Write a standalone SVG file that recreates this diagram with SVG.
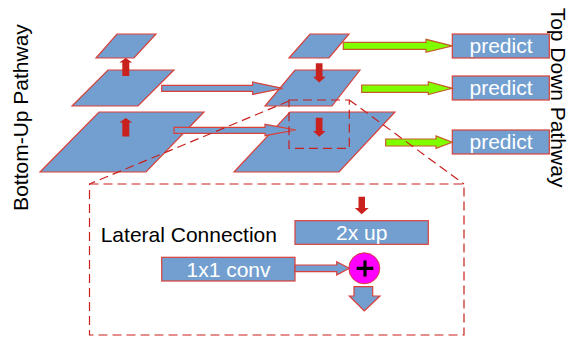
<svg xmlns="http://www.w3.org/2000/svg" width="570" height="340" viewBox="0 0 570 340">
<style>
.plane{fill:#729fcf;stroke:#d9413a;stroke-width:1.2}
.box{fill:#729fcf;stroke:#d9413a;stroke-width:1.2}
.red{fill:#c9211e;stroke:none}
.blue{fill:#729fcf;stroke:#d9413a;stroke-width:1.2}
.green{fill:#80ff00;stroke:#c65a2a;stroke-width:1.2}
.dash{fill:none;stroke:#c9211e;stroke-width:1.2;stroke-dasharray:9,5}
.wt{font-family:"Liberation Sans",Arial,sans-serif;font-size:21px;fill:#ffffff;text-anchor:middle}
.bt{font-family:"Liberation Sans",Arial,sans-serif;font-size:21px;fill:#000000}
</style>
<rect width="570" height="340" fill="#ffffff"/>

<g id="bu-top"><polygon class="plane" points="117,34 156,34 134,58 96,58"/></g>
<g id="bu-mid"><polygon class="plane" points="108,70 174,70 138,106 72,106"/></g>
<g id="bu-bot"><polygon class="plane" points="99,112 204,112 146,172 40,172"/></g>

<g id="td-top"><polygon class="plane" points="310,34 349,34 329,58 289,58"/></g>
<g id="td-mid"><polygon class="plane" points="295,70 360,70 332,106 265,106"/></g>
<g id="td-bot"><polygon class="plane" points="290,112 395,112 339,172 234,172"/></g>

<g id="predict1"><rect class="box" x="452.3" y="34" width="97" height="24"/><text class="wt" x="501" y="53">predict</text></g>
<g id="predict2"><rect class="box" x="452.3" y="76" width="97" height="24"/><text class="wt" x="501" y="95">predict</text></g>
<g id="predict3"><rect class="box" x="452.3" y="130" width="97" height="24"/><text class="wt" x="501" y="149">predict</text></g>

<g id="up2x"><rect class="box" x="295" y="220.7" width="133.3" height="23.6"/><text class="wt" x="361.7" y="240">2x up</text></g>
<g id="conv1x1"><rect class="box" x="161.7" y="257.3" width="133.3" height="23.7"/><text class="wt" x="228.5" y="276.5">1x1 conv</text></g>
<g id="sum"><circle cx="364.3" cy="268.3" r="15.5" fill="#ff00ff" stroke="#d9413a" stroke-width="1"/><path d="M356.7 268.3H373.3M365 260.5V276.5" stroke="#000" stroke-width="3.2"/></g>

<g id="label-lateral"><text class="bt" x="100.7" y="241.7">Lateral Connection</text></g>
<g id="label-bu"><text class="bt" transform="translate(28,117.5) rotate(-90)" text-anchor="middle">Bottom-Up Pathway</text></g>
<g id="label-td"><text class="bt" transform="translate(550.5,97.5) rotate(90)" text-anchor="middle">Top Down Pathway</text></g>

<g id="connectors">
<!-- bottom-up red arrows -->
<polygon class="red" points="125.8,58 132.3,62.5 129.3,62.5 129.3,76 122.3,76 122.3,62.5 119.3,62.5"/>
<polygon class="red" points="125.8,118 132.3,122.5 129.3,122.5 129.3,136.5 122.3,136.5 122.3,122.5 119.3,122.5"/>
<!-- top-down red arrows -->
<polygon class="red" points="315.8,63.3 322.5,63.3 322.5,76.7 325.7,76.7 319.2,82.5 313,76.7 315.8,76.7"/>
<polygon class="red" points="315.8,117.7 322.5,117.7 322.5,131 325.7,131 319.2,136.8 313,131 315.8,131"/>
<polygon class="red" points="358.5,196.7 365,196.7 365,208 368.7,208 361.7,214.3 354.8,208 358.5,208"/>
<!-- lateral blue arrows -->
<polygon class="blue" points="161.7,85.3 252.7,85.3 252.7,82 282.7,88.3 252.7,94.5 252.7,91.3 161.7,91.3"/>
<polygon class="blue" points="174,127.3 265,127.3 265,124.3 296,130 265,135.7 265,133.3 174,133.3"/>
<polygon class="blue" points="295,265 336.7,265 336.7,261.7 349.3,268.3 336.7,275 336.7,271.7 295,271.7"/>
<polygon class="blue" points="354,286.7 372.7,286.7 372.7,296 380,296 364.3,311 349.3,296 354,296"/>
<!-- green arrows -->
<polygon class="green" points="343.3,42.3 426,42.3 426,39.3 452.3,45.8 426,52.3 426,49.3 343.3,49.3"/>
<polygon class="green" points="361.7,85 428.3,85 428.3,81.7 452.3,88.3 428.3,94.5 428.3,92.3 361.7,92.3"/>
<polygon class="green" points="385.7,139 436,139 436,136 452.3,142.3 436,148.3 436,146 385.7,146"/>
<!-- dashed zoom outline -->
<rect class="dash" x="289" y="100" width="60.3" height="48.3"/>
<path class="dash" d="M289 101L89.5 184"/>
<path class="dash" d="M349.3 100L464 184"/>
<rect class="dash" x="89.5" y="184" width="374.5" height="151"/>
</g>
</svg>
